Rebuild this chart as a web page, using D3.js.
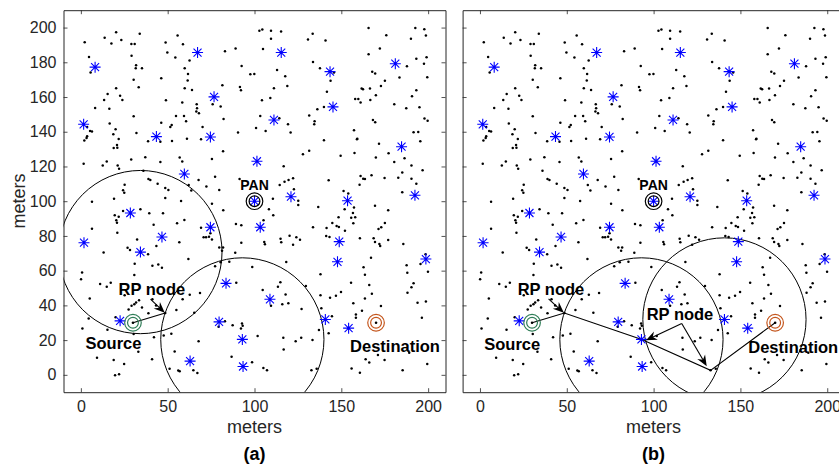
<!DOCTYPE html>
<html>
<head>
<meta charset="utf-8">
<script src="https://cdn.jsdelivr.net/npm/d3@7"></script>
<style>
body { margin: 0; background: #fff; overflow: hidden; }
svg { display: block; font-family: "Liberation Sans", Arial, sans-serif; }
</style>
</head>
<body>
<svg width="839" height="465"></svg>
<script>
var xTicks = [0, 50, 100, 150, 200];
var yTicks = [0, 20, 40, 60, 80, 100, 120, 140, 160, 180, 200];

// ordinary sensor nodes (black dots), meters
var sensorNodes = [
  [2.2,191.6],[13.7,194.2],[20.3,197.3],[17.6,190.8],[23.3,192.9],[29.1,190.6],[31,190.6],[33.9,196.5],[4.7,183.1],[5.6,174.1],
  [29.2,183.7],[31.8,178.3],[31.6,176.6],[35.2,176.6],[30.4,170],[33.3,165.6],[20.3,165.1],[15.4,161.8],[22.6,160.8],[23.9,158.3],
  [13.4,158.3],[8.2,153.7],[16.4,153.3],[30.4,148.9],[16.6,144.7],[20,141.4],[18.7,138.6],[3.6,142.8],[5.3,140.5],[6.4,140.1],
  [3.6,137.4],[32,139.3],[48.8,191.4],[55.7,195.4],[58.8,190.4],[49.8,185.6],[54.4,182.7],[62.6,181],[59.8,176.6],[61.7,173.3],
  [61.5,169.5],[46.3,170.8],[59.8,165.1],[64,164.1],[49,158.1],[58.4,156.8],[66.7,155.8],[66.9,153.5],[66.5,151.6],[68,150.7],
  [54.8,149.1],[59.4,149.1],[60.6,146],[46.3,145.2],[51.5,142.8],[52.3,143.9],[70.1,142.8],[75.9,155.8],[80.5,154.5],[82.2,147.4],
  [81.5,166.8],[83,186.4],[89.1,187.9],[92.6,177.9],[91.6,165.8],[92.2,163.9],[90.5,139.5],
  [102.8,198.1],[104.5,198.9],[109.5,198.1],[115.3,197.7],[109.5,193.5],[104.9,187.7],[97.6,173.1],[99.9,173.3],[113,175.6],
  [117.7,172],[111.2,165.1],[118.9,166.4],[104.3,158.2],[109.1,159.5],[103.3,149.1],[114.3,147.8],[100.9,142.2],[106.4,140.5],
  [119.3,144.3],[120.8,139.5],[130.8,193.1],[133.5,196.4],[140.9,192.5],[133.7,180.1],[137.7,176.6],[145.8,174.1],[143.8,169.3],
  [141.7,163.1],[140,154.3],[136.2,153],[131.5,149.3],[134.6,146],[134.4,144.3],[157.3,140.9],[159.2,136],[165.7,199.7],[175.9,195.6],
  [172.2,187.9],[165.7,184.7],[167.8,174.5],[169.5,173.5],[175.1,169.3],[172.8,166.4],[161.7,164.9],[162.5,164.5],[166.5,164.9],
  [169.9,161],[158,158.9],[159.8,158.9],[161.1,156.8],[166.7,158.3],[168.2,146.8],[169.5,145.5],[180.5,155.8],[183.5,171.2],
  [187.8,177.7],[190.1,193.5],[192.6,199.7],[197.8,199.1],[198.7,195.4],[193.2,182],[199.1,182.9],[197.6,179.2],[199.5,171.4],
  [193.2,163.9],[190.7,160.4],[187.4,153.5],[195,154.1],[197.9,147.6],[199.7,146.4],[191.6,139.7],[194.3,139.9],
  [3.3,136.4],[2,134.9],[21.8,135.8],[20.8,132.4],[18.9,130.7],[21,130.8],[38.7,134.5],[45.8,134.3],[52.5,134.7],[61.1,135.9],
  [69.2,135.7],[81.9,128.8],[1.6,121.6],[12.6,120.5],[14.9,122.8],[21.2,120.5],[22,118.7],[29,124],[37.1,125.3],[45.8,122.6],
  [56.9,125.1],[58.4,122.8],[75.5,124.3],[67.8,112.2],[77.3,114.1],[72.3,108.4],[79.7,106.5],[36,117.6],[38.9,112.8],[40,112.2],
  [44.2,110.1],[48.6,107.6],[50.4,106.5],[62.1,109.3],[63.6,106.1],[25.2,109.5],[24.3,106.3],[25,104.9],[6.4,99.7],[19.1,101.4],
  [48.6,101.8],[57.7,100.1],[75.5,98.6],[82,94.8],[34.3,95.3],[39.4,93],[47.3,93],[24.3,94.4],[19.5,91.9],[21.8,91.1],
  [20.4,89],[20.8,87.6],[6.4,84.1],[21,81.8],[41.9,86.5],[55.4,87.3],[59.6,89.2],[69.2,84.7],[70.7,79.2],[72.1,79.2],
  [74.6,81.5],[73.8,79.5],[75.5,78],[56.7,76.3],[32.4,78],[43.5,74.2],[26.9,73.2],[28.3,71.9],[13.1,70.5],[38.7,69.4],
  [61.9,66.7],[79.7,73.4],[81.9,73.4],[81.3,71.5],[31,64],[41.2,62.8],[44.6,63.6],[46.7,61.7],[77.3,62.5],[80.5,64.8],[85.5,65.1],
  [91.4,112.8],[116.8,120.1],[127.9,127],[131.5,129.1],[140,135.1],[159,135.7],[149.6,126.2],[157.6,127.8],[171.7,133.1],[169.9,125.1],
  [177.2,127.6],[180.5,122.6],[186.4,124.7],[195.5,134.5],[185.1,116.6],[190.4,120.5],[196.8,117.8],[182.8,113.5],[190.4,113],[193.2,110.1],
  [185.1,105.1],[174.9,113.4],[167.4,114.9],[161.1,114.5],[162.6,113],[163.6,112.8],[160.5,109.5],[142.7,112],[114.5,109.3],[117.3,111.2],
  [119.6,112.2],[122.2,113.2],[122.7,106.9],[110.6,101.4],[125.2,100.3],[125.2,97.8],[108.3,95.3],[110.8,91.9],[105.2,89],[89.3,86.9],
  [92.4,86.1],[151.3,105.9],[154,104.5],[151.9,95.3],[157.3,96.3],[156.7,93.2],[155.7,90.5],[158,90.7],[156.9,87.3],[136.7,96.7],
  [148.4,90.7],[144.8,87.4],[147.3,85.7],[148.6,85.1],[152.1,83],[141.5,84.6],[133.7,85],[141.3,79.9],[143.2,79.4],[169.4,97.4],
  [177,94.8],[175.1,87.4],[173,85],[171.4,84],[160.7,78.6],[168.6,78.6],[169.4,76.5],[171.9,75.3],[172.4,74.2],[177,77.6],
  [185.7,75.3],[198.5,69.4],[167.1,67.4],[187.6,63.1],[162.8,61.9],[115,78.4],[115.4,76.3],[120.2,80.1],[122.2,74.9],[124.1,79.2],
  [126.2,77.8],[105.6,76.5],[106,75.2],[92.4,76.1],[88.9,70.3],[98.7,62.1],[118.3,65],
  [0.7,59],[0.1,55],[30.8,57.5],[11.1,52.3],[17.2,53],[14.9,50.7],[5.1,44],[25.2,45.9],[68.6,47.1],[58.6,43.5],
  [62.7,46.1],[55,37.3],[65.3,35.7],[29.2,39.8],[30.8,40.6],[31.8,41.7],[33.5,42.9],[27.5,37.7],[35.2,38.8],[38.9,35.4],
  [41.2,43.5],[43.3,40],[4.5,32.5],[15.3,25.9],[0.9,26.7],[20,33.1],[30.4,23.5],[42.1,21.6],[47.7,22.7],[52.1,23.6],
  [67.8,19.3],[54,13.5],[9.3,9.8],[18.9,8.5],[24.9,6.2],[19.7,-0.2],[22,0.4],[33.1,13.3],[41,9],[51.1,3.5],
  [56.1,2.5],[56.9,2.1],[67.1,1],[64.8,2.7],[89.5,53],[87.4,28.6],[79.3,27.7],[92.8,29.6],[86.8,10.4],[48.6,35.6],
  [104.7,48.8],[113.5,50.7],[114.9,53.3],[117.9,46.3],[116,40.6],[119.5,41.2],[109.5,39.8],[129.6,51.1],[127.1,37.9],[138,45.8],
  [143.5,44.4],[146.9,45.5],[149.8,47.7],[138,58],[155.6,53],[163.6,57.6],[166.1,51.7],[167.6,46.7],[163.6,44],[156.9,41.2],
  [161.9,36.9],[158.4,34.8],[158.4,32.9],[172.8,39.6],[188,58.8],[191.6,52.7],[190.4,50.5],[188.1,47.3],[199.9,59.4],[195.6,63.8],
  [193.9,41.5],[198.7,42.3],[196.4,32.9],[142.7,23.9],[138.5,38.3],[137.1,25.8],[144.6,33.8],[133.4,20],[126.9,21.3],[123.7,19.4],
  [116.6,21.3],[116.8,14.6],[101.8,22.3],[93.2,28.2],[92.2,26.7],[83,30.8],[98.6,7.3],[105.1,4],[107.2,2.7],[132.8,2.6],
  [135.8,3.5],[155.9,3.7],[160.7,1.2],[164,9],[166.1,7.1],[171.1,11.4],[174.9,8.5],[185.3,2.7],[199.5,6.3],[189.1,12.7]
];

// cluster heads (blue asterisks)
var clusterHeads = [
  [8.2,177.2],[1.6,144.3],[67.2,185.6],[76.7,160.1],[43.5,137.2],[74.6,137],[115.4,185.6],[111.2,146.8],[143.5,174.6],[145.2,154.3],
  [181.1,179.2],[59.6,115.7],[28.5,93.2],[1.8,76.1],[46.7,79.4],[34.3,70.7],[74.6,85],[101.4,123],[121,102.6],[103.3,85],
  [153.6,100.3],[148.8,76.7],[147.8,65.1],[184.7,131.4],[192.4,103.4],[198.7,66.7],[100,100],[83.6,52.7],[22.6,31.1],[79.6,30.5],
  [93,20.4],[62.9,7.9],[93.4,4.8],[108.9,43.5],[140.8,31.9],[154.2,26.9]
];

var panNode = [100, 100];
var sourceNode = [30, 30];
var destNode = [170, 30];
var commRange = 47;

var rangesA = [[34.3, 70.7], [93, 20.4]];
var rangesB = [[93, 20.4], [140.8, 31.9]];
var routeA = [[30, 30], [48.6, 35.6]];
var routeB = [[30, 30], [48.6, 35.6], [93.2, 20.3], [132.8, 2.6], [170, 30]];
var arrowsA = [[[40.1, 43.6], [48.3, 35.7]]];
var arrowsB = [[[39.5, 43.8], [48.3, 35.7]], [[116.2, 29.6], [95.6, 19.9]], [[116.2, 29.6], [130.6, 5.0]]];
var labelsA = [["PAN", 100, 106.4], ["RP node", 40.9, 45.9], ["Source", 18.8, 14.6], ["Destination", 180.9, 13.2]];
var labelsB = [["PAN", 100, 106.4], ["RP node", 40.9, 45.9], ["Source", 18.6, 14.4], ["Destination", 180.4, 12.8], ["RP node", 115.2, 31.5]];

var svg = d3.select("svg");

function drawPanel(id, left, caption, yLabels, ranges, route, arrows, labels) {
    var xScale = d3.scaleLinear([-10, 210], [left, left + 382]);
    var yScale = d3.scaleLinear([-10, 210], [392.2, 10.2]);
    var g = svg.append("g");

    g.append("clipPath").attr("id", "clip" + id)
        .append("rect")
        .attr("x", left).attr("y", 10.2).attr("width", 382).attr("height", 382);

    var plot = g.append("g").attr("clip-path", "url(#clip" + id + ")");

    plot.selectAll("circle.range")
        .data(ranges)
        .enter()
            .append("circle")
            .attr("class", "range")
            .attr("cx", function(d) { return xScale(d[0]); })
            .attr("cy", function(d) { return yScale(d[1]); })
            .attr("r", xScale(commRange) - xScale(0))
            .attr("fill", "none")
            .attr("stroke", "#000")
            .attr("stroke-width", 1);

    plot.append("path")
        .datum(route)
        .attr("d", d3.line().x(function(d) { return xScale(d[0]); }).y(function(d) { return yScale(d[1]); }))
        .attr("fill", "none")
        .attr("stroke", "#000")
        .attr("stroke-width", 1.1);

    plot.selectAll("circle.node")
        .data(sensorNodes)
        .enter()
            .append("circle")
            .attr("class", "node")
            .attr("cx", function(d) { return xScale(d[0]); })
            .attr("cy", function(d) { return yScale(d[1]); })
            .attr("r", 1.25)
            .attr("fill", "#000");

    plot.selectAll("path.head")
        .data(clusterHeads)
        .enter()
            .append("path")
            .attr("class", "head")
            .attr("transform", function(d) { return "translate(" + xScale(d[0]) + "," + yScale(d[1]) + ")"; })
            .attr("d", "M-5.5,0H5.5M0,-5.5V5.5M-4,-4L4,4M-4,4L4,-4")
            .attr("stroke", "#0000ff")
            .attr("stroke-width", 1.1)
            .attr("fill", "none");

    // PAN, source and destination rings
    var rings = [[panNode, "#000"], [sourceNode, "#2f7d57"], [destNode, "#c4561d"]];
    rings.forEach(function(r) {
        [8.3, 5.4].forEach(function(rad) {
            plot.append("circle")
                .attr("cx", xScale(r[0][0]))
                .attr("cy", yScale(r[0][1]))
                .attr("r", rad)
                .attr("fill", "none")
                .attr("stroke", r[1])
                .attr("stroke-width", 1.2);
        });
    });
    [sourceNode, destNode].forEach(function(n) {
        plot.append("circle")
            .attr("cx", xScale(n[0])).attr("cy", yScale(n[1]))
            .attr("r", 1.3).attr("fill", "#000");
    });

    arrows.forEach(function(a) {
        var x1 = xScale(a[0][0]), y1 = yScale(a[0][1]);
        var x2 = xScale(a[1][0]), y2 = yScale(a[1][1]);
        var len = Math.hypot(x2 - x1, y2 - y1);
        var ux = (x2 - x1) / len, uy = (y2 - y1) / len;
        var nx = -uy, ny = ux;
        var L = 11, w = 4.5;
        g.append("line")
            .attr("x1", x1).attr("y1", y1)
            .attr("x2", x2 - ux * 6).attr("y2", y2 - uy * 6)
            .attr("stroke", "#000").attr("stroke-width", 1.1);
        var pts = [
            [x2, y2],
            [x2 - ux * L + nx * w, y2 - uy * L + ny * w],
            [x2 - ux * (L - 3.5), y2 - uy * (L - 3.5)],
            [x2 - ux * L - nx * w, y2 - uy * L - ny * w]
        ];
        g.append("path")
            .attr("d", "M" + pts.join("L") + "Z")
            .attr("fill", "#000");
    });

    g.selectAll("text.lbl")
        .data(labels)
        .enter()
            .append("text")
            .attr("class", "lbl")
            .attr("x", function(d) { return xScale(d[1]); })
            .attr("y", function(d) { return yScale(d[2]); })
            .attr("text-anchor", "middle")
            .attr("font-weight", "bold")
            .attr("font-size", function(d) { return d[0] == "PAN" ? "14px" : "16.5px"; })
            .attr("fill", "#000")
            .text(function(d) { return d[0]; });

    // axes: ticks inside on all sides, MATLAB style
    var axisColor = "#262626";
    g.append("g")
        .attr("transform", "translate(0,392.2)")
        .call(d3.axisBottom(xScale).tickValues(xTicks).tickSizeInner(-4).tickSizeOuter(0).tickPadding(8))
        .call(styleAxis);
    g.append("g")
        .attr("transform", "translate(0,10.2)")
        .call(d3.axisTop(xScale).tickValues(xTicks).tickSizeInner(-4).tickSizeOuter(0).tickFormat(""))
        .call(styleAxis);
    g.append("g")
        .attr("transform", "translate(" + left + ",0)")
        .call(d3.axisLeft(yScale).tickValues(yTicks).tickSizeInner(-4).tickSizeOuter(0).tickPadding(7)
            .tickFormat(yLabels ? d3.format("d") : ""))
        .call(styleAxis);
    g.append("g")
        .attr("transform", "translate(" + (left + 382) + ",0)")
        .call(d3.axisRight(yScale).tickValues(yTicks).tickSizeInner(-4).tickSizeOuter(0).tickFormat(""))
        .call(styleAxis);

    function styleAxis(sel) {
        sel.select(".domain").attr("stroke", axisColor).attr("stroke-width", 1);
        sel.selectAll(".tick line").attr("stroke", axisColor).attr("stroke-width", 0.8);
        sel.selectAll(".tick text")
            .attr("fill", axisColor)
            .attr("font-size", "16px")
            .attr("font-family", "Liberation Sans, Arial, sans-serif");
    }

    g.append("text")
        .attr("x", left + 191).attr("y", 433)
        .attr("text-anchor", "middle")
        .attr("font-size", "18px")
        .attr("fill", axisColor)
        .text("meters");

    g.append("text")
        .attr("x", left + 191).attr("y", 460)
        .attr("text-anchor", "middle")
        .attr("font-size", "18px")
        .attr("font-weight", "bold")
        .attr("fill", "#000")
        .text(caption);
}

drawPanel("a", 63.5, "(a)", true, rangesA, routeA, arrowsA, labelsA);
drawPanel("b", 462.6, "(b)", false, rangesB, routeB, arrowsB, labelsB);

svg.append("text")
    .attr("transform", "translate(25,201) rotate(-90)")
    .attr("text-anchor", "middle")
    .attr("font-size", "18px")
    .attr("fill", "#262626")
    .text("meters");
</script>
</body>
</html>
